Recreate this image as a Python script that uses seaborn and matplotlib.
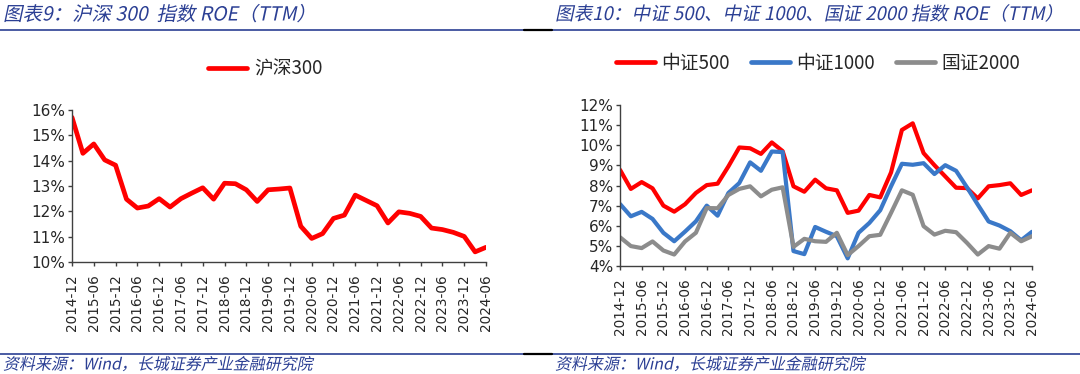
import numpy as np
import pandas as pd
import matplotlib
matplotlib.use("Agg")
import matplotlib.pyplot as plt
import seaborn as sns
from matplotlib.lines import Line2D
from matplotlib.patheffects import AbstractPathEffect
from matplotlib.transforms import Affine2D

# quarterly data, 2014-12 .. 2024-06
quarters = pd.period_range("2014Q4", "2024Q2", freq="Q")
dates = [f"{p.year}-{p.quarter * 3:02d}" for p in quarters]

hs300 = [15.71, 14.29, 14.66, 14.03, 13.82, 12.48, 12.13, 12.21, 12.50, 12.17,
         12.50, 12.72, 12.93, 12.48, 13.11, 13.09, 12.85, 12.39, 12.85, 12.88,
         12.92, 11.41, 10.93, 11.12, 11.72, 11.85, 12.64, 12.43, 12.22, 11.54,
         11.98, 11.92, 11.80, 11.34, 11.28, 11.17, 11.01, 10.40, 10.58]

zz500 = [8.78, 7.83, 8.17, 7.86, 7.00, 6.70, 7.07, 7.63, 8.02, 8.09,
         8.95, 9.89, 9.85, 9.57, 10.14, 9.71, 7.96, 7.69, 8.29, 7.86,
         7.76, 6.64, 6.75, 7.53, 7.41, 8.65, 10.76, 11.09, 9.61, 9.01,
         8.45, 7.89, 7.87, 7.36, 7.96, 8.02, 8.11, 7.53, 7.76]

zz1000 = [7.08, 6.47, 6.69, 6.34, 5.65, 5.23, 5.71, 6.22, 7.00, 6.50,
          7.63, 8.12, 9.15, 8.73, 9.69, 9.66, 4.74, 4.59, 5.94, 5.70,
          5.48, 4.38, 5.65, 6.14, 6.77, 7.96, 9.08, 9.03, 9.11, 8.57,
          9.01, 8.73, 7.91, 7.05, 6.21, 6.01, 5.73, 5.28, 5.70]

gz2000 = [5.43, 4.99, 4.89, 5.22, 4.77, 4.57, 5.22, 5.65, 6.88, 6.87,
          7.53, 7.83, 7.96, 7.46, 7.79, 7.91, 4.95, 5.35, 5.23, 5.20,
          5.65, 4.54, 4.99, 5.48, 5.55, 6.64, 7.76, 7.54, 5.98, 5.56,
          5.75, 5.68, 5.15, 4.57, 4.99, 4.86, 5.65, 5.23, 5.48]

names_right = ["中证500", "中证1000", "国证2000"]
colors_right = ["#FF0000", "#3A78C8", "#8C8C8C"]

sns.set_style("ticks")
plt.rcParams["font.family"] = ["Noto Sans CJK SC", "DejaVu Sans"]

fig = plt.figure(figsize=(10.8, 3.74), dpi=100)
W, H = 1080, 374


class Slant(AbstractPathEffect):
    # fake italic for the CJK font (it has no italic face)
    def draw_path(self, renderer, gc, tpath, affine, rgbFace=None):
        renderer.draw_path(gc, tpath, Affine2D().skew_deg(12, 0) + affine, rgbFace)


def px_axes(x0, y0, x1, y1):
    return fig.add_axes([x0 / W, 1 - y1 / H, (x1 - x0) / W, (y1 - y0) / H])


def style_axis(ax, lo, hi):
    ax.set_xlim(0, len(dates) - 1)
    ax.set_ylim(lo, hi)
    ax.set_yticks(range(lo, hi + 1))
    ax.set_yticklabels([f"{v}%" for v in range(lo, hi + 1)], fontsize=11,
                       family=["DejaVu Sans"])
    ax.set_xticks(range(0, len(dates), 2))
    ax.set_xticklabels(dates[::2], rotation=90, fontsize=9.8,
                       family=["DejaVu Sans"])
    ax.set_xlabel("")
    ax.set_ylabel("")
    for s in ["top", "right"]:
        ax.spines[s].set_visible(False)
    for s in ["left", "bottom"]:
        ax.spines[s].set_color("#404040")
        ax.spines[s].set_linewidth(1.0)
    ax.tick_params(length=3, width=1.0, color="#404040", pad=2)
    ax.tick_params(axis="x", pad=6)
    ax.grid(False)
    ax.patch.set_alpha(0)


# left chart
ax1 = px_axes(72, 110, 486, 262)
df1 = pd.DataFrame({"t": range(len(dates)), "roe": hs300})
sns.lineplot(data=df1, x="t", y="roe", ax=ax1, color="#FF0000", lw=3.4)
style_axis(ax1, 10, 16)

# right chart
ax2 = px_axes(620, 105, 1032, 266)
df2 = pd.DataFrame({"t": range(len(dates)), "中证500": zz500,
                    "中证1000": zz1000, "国证2000": gz2000})
df2 = df2.melt(id_vars="t", var_name="idx", value_name="roe")
sns.lineplot(data=df2, x="t", y="roe", hue="idx", hue_order=names_right,
             palette=colors_right, ax=ax2, lw=3.0, legend=False)
style_axis(ax2, 4, 12)

# legends
leg_kw = dict(frameon=False, fontsize=13.5, handlelength=2.1,
              handletextpad=0.35, borderpad=0, borderaxespad=0)
h1 = [Line2D([], [], color="#FF0000", lw=3.4)]
fig.legend(h1, ["沪深300"], loc="center", bbox_to_anchor=(265 / W, 1 - 69 / H),
           **leg_kw)
h2 = [Line2D([], [], color=c, lw=3.4) for c in colors_right]
fig.legend(h2, names_right, loc="center", bbox_to_anchor=(818 / W, 1 - 63 / H),
           ncol=3, columnspacing=1.1, **leg_kw)

# titles, rules and sources
title_c = "#2B3F94"
t1 = fig.text(3 / W, 1 - 15 / H, "图表9：沪深 300  指数 ROE（TTM）", color=title_c,
              fontsize=14, va="center", ha="left")
t2 = fig.text(555 / W, 1 - 15 / H, "图表10：中证 500、中证 1000、国证 2000 指数 ROE（TTM）",
              color=title_c, fontsize=13.4, va="center", ha="left")
for y in (30, 354):
    fig.add_artist(Line2D([0, 1], [1 - y / H] * 2, color="#2B3F94", lw=1.2))
    fig.add_artist(Line2D([524 / W, 552 / W], [1 - y / H] * 2, color="black", lw=1.6))
src = "资料来源：Wind，长城证券产业金融研究院"
s1 = fig.text(3 / W, 1 - 365 / H, src, color=title_c, fontsize=11.5, va="center")
s2 = fig.text(555 / W, 1 - 365 / H, src, color=title_c, fontsize=11.5, va="center")
for t in (t1, t2, s1, s2):
    t.set_path_effects([Slant()])

fig.savefig("out.png", dpi=100)
